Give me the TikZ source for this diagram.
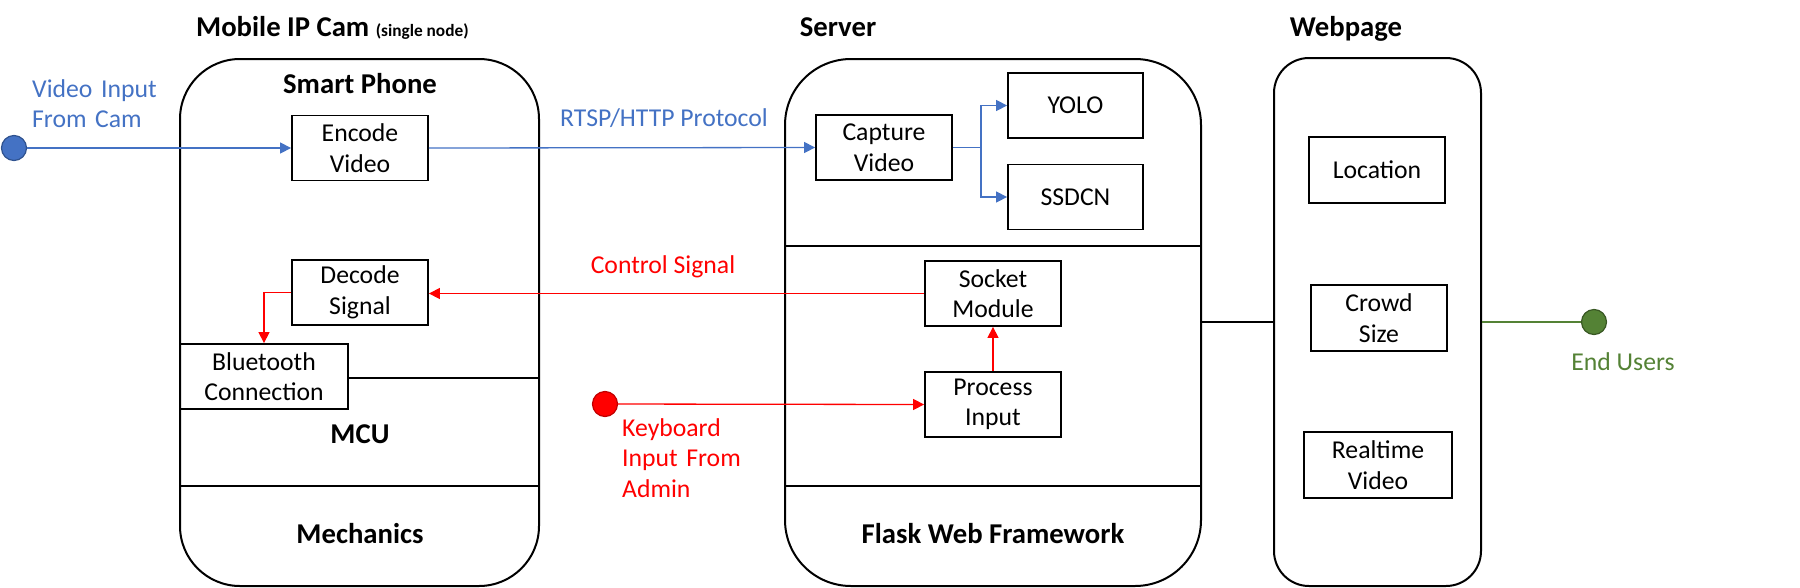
\documentclass[tikz,border=0pt]{standalone}
\usepackage{fontspec}
\setmainfont{Carlito}
\usetikzlibrary{arrows.meta}
\definecolor{cblue}{HTML}{4472C4}
\definecolor{cbluedk}{HTML}{2F528F}
\definecolor{cred}{HTML}{FF0000}
\definecolor{creddk}{HTML}{C00000}
\definecolor{cgreen}{HTML}{548235}
\definecolor{cgreendk}{HTML}{385723}
\begin{document}
\begin{tikzpicture}[x=1pt,y=-1pt,
  box/.style={draw, line width=1.8pt, inner sep=0pt, minimum width=#1, minimum height=65pt, align=center, font=\fontsize{25.7}{30.5}\selectfont},
  box/.default=136pt,
  container/.style={draw, line width=2pt, inner sep=0pt, minimum height=527pt, rounded corners=#1},
  ttl/.style={inner sep=0pt, font=\bfseries\fontsize{28.7}{34}\selectfont},
  lbl/.style={inner sep=0pt, font=\fontsize{25.7}{30.5}\selectfont},
  dot/.style={circle, line width=1.2pt, minimum size=25pt, inner sep=0pt},
  tip/.style={-{Triangle[length=11pt,width=11pt]}},
  bconn/.style={draw=cblue, line width=1.3pt},
  rconn/.style={draw=cred, line width=1.3pt},
  gconn/.style={draw=cgreen, line width=1.6pt},
  sep/.style={draw, line width=2pt}]
\useasboundingbox (0,0) rectangle (1800,587);
\coordinate (y246) at (0,246);
\coordinate (y378) at (0,378);
\coordinate (y486) at (0,486);
% containers
\node[container=60pt, minimum width=359pt] (phone) at (359.5,322.5) {};
\node[container=66pt, minimum width=416pt] (server) at (993,322.5) {};
\node[container=35pt, minimum width=207pt, minimum height=528pt] (web) at (1377.5,322) {};
% titles
\node[ttl, anchor=base west] (tcam) at (196,36) {Mobile IP Cam {\fontsize{17.3}{20}\selectfont(single node)}};
\node[ttl, anchor=base] (tserver) at (838,36) {Server};
\node[ttl, anchor=base] (tweb) at (1346,36) {Webpage};
\node[ttl, anchor=base] (tsp) at (360,93) {Smart Phone};
\node[ttl, anchor=base] (tmcu) at (360,443) {MCU};
\node[ttl, anchor=base] (tmech) at (360,543) {Mechanics};
\node[ttl, anchor=base] (tflask) at (993,543) {Flask Web Framework};
% separators
\draw[sep] (phone.west |- y486) -- (phone.east |- y486);
\draw[sep] (server.west |- y246) -- (server.east |- y246);
\draw[sep] (server.west |- y486) -- (server.east |- y486);
% boxes
\node[box] (enc) at (360,148) {Encode\\Video};
\node[box] (dec) at (360,292.5) {Decode\\Signal};
\node[box=168pt] (bt) at (264,376.5) {Bluetooth\\Connection};
\draw[sep] (bt.east |- y378) -- (phone.east |- y378);
\node[box] (cap) at (884,147.5) {Capture\\Video};
\node[box=135pt] (yolo) at (1075.5,105.5) {YOLO};
\node[box=135pt] (ssdcn) at (1075.5,197) {SSDCN};
\node[box] (sock) at (993,293.5) {Socket\\Module};
\node[box] (proc) at (993,404.5) {Process\\Input};
\node[box, minimum height=66pt] (loc) at (1377,170) {Location};
\node[box, minimum height=66pt] (crowd) at (1379,318) {Crowd\\Size};
\node[box=148pt, minimum height=66pt] (rt) at (1378,465) {Realtime\\Video};
% end points
\node[dot, draw=cbluedk, fill=cblue] (vin) at (14,148) {};
\node[dot, draw=creddk, fill=cred] (kin) at (605,404) {};
\node[dot, draw=cgreendk, fill=cgreen] (eu) at (1594,322) {};
% labels
\node[lbl, text=cblue, anchor=base west, text width=160pt, align=left] (lvin) at (32,97) {Video Input\\From Cam};
\node[lbl, text=cblue, anchor=base] (lrtsp) at (664,126) {RTSP/HTTP Protocol};
\node[lbl, text=cred, anchor=base] (lctl) at (663,273) {Control Signal};
\node[lbl, text=cred, anchor=base west, text width=200pt, align=left] (lkey) at (622,436) {Keyboard\\Input From\\Admin};
\node[lbl, text=cgreen, anchor=base] (leu) at (1623,370) {End Users};
% connectors
\draw[bconn, tip] (vin) -- (enc.west);
\draw[bconn, tip] (enc.east) -- (cap.west);
\draw[bconn] (cap.east) -- ++(28,0) coordinate (fork);
\draw[bconn, tip] (fork) |- (yolo.west);
\draw[bconn, tip] (fork) |- (ssdcn.west);
\draw[rconn, tip] (sock.west) -- (sock.west -| dec.east);
\draw[rconn, tip] (dec.west) -| (bt.north);
\draw[rconn, tip] (proc.north) -- (sock.south);
\draw[rconn, tip] (kin) -- (proc.west);
\draw[line width=2pt] (server.east |- eu) -- (web.west |- eu);
\draw[gconn] (web.east |- eu) -- (eu);
\end{tikzpicture}
\end{document}
